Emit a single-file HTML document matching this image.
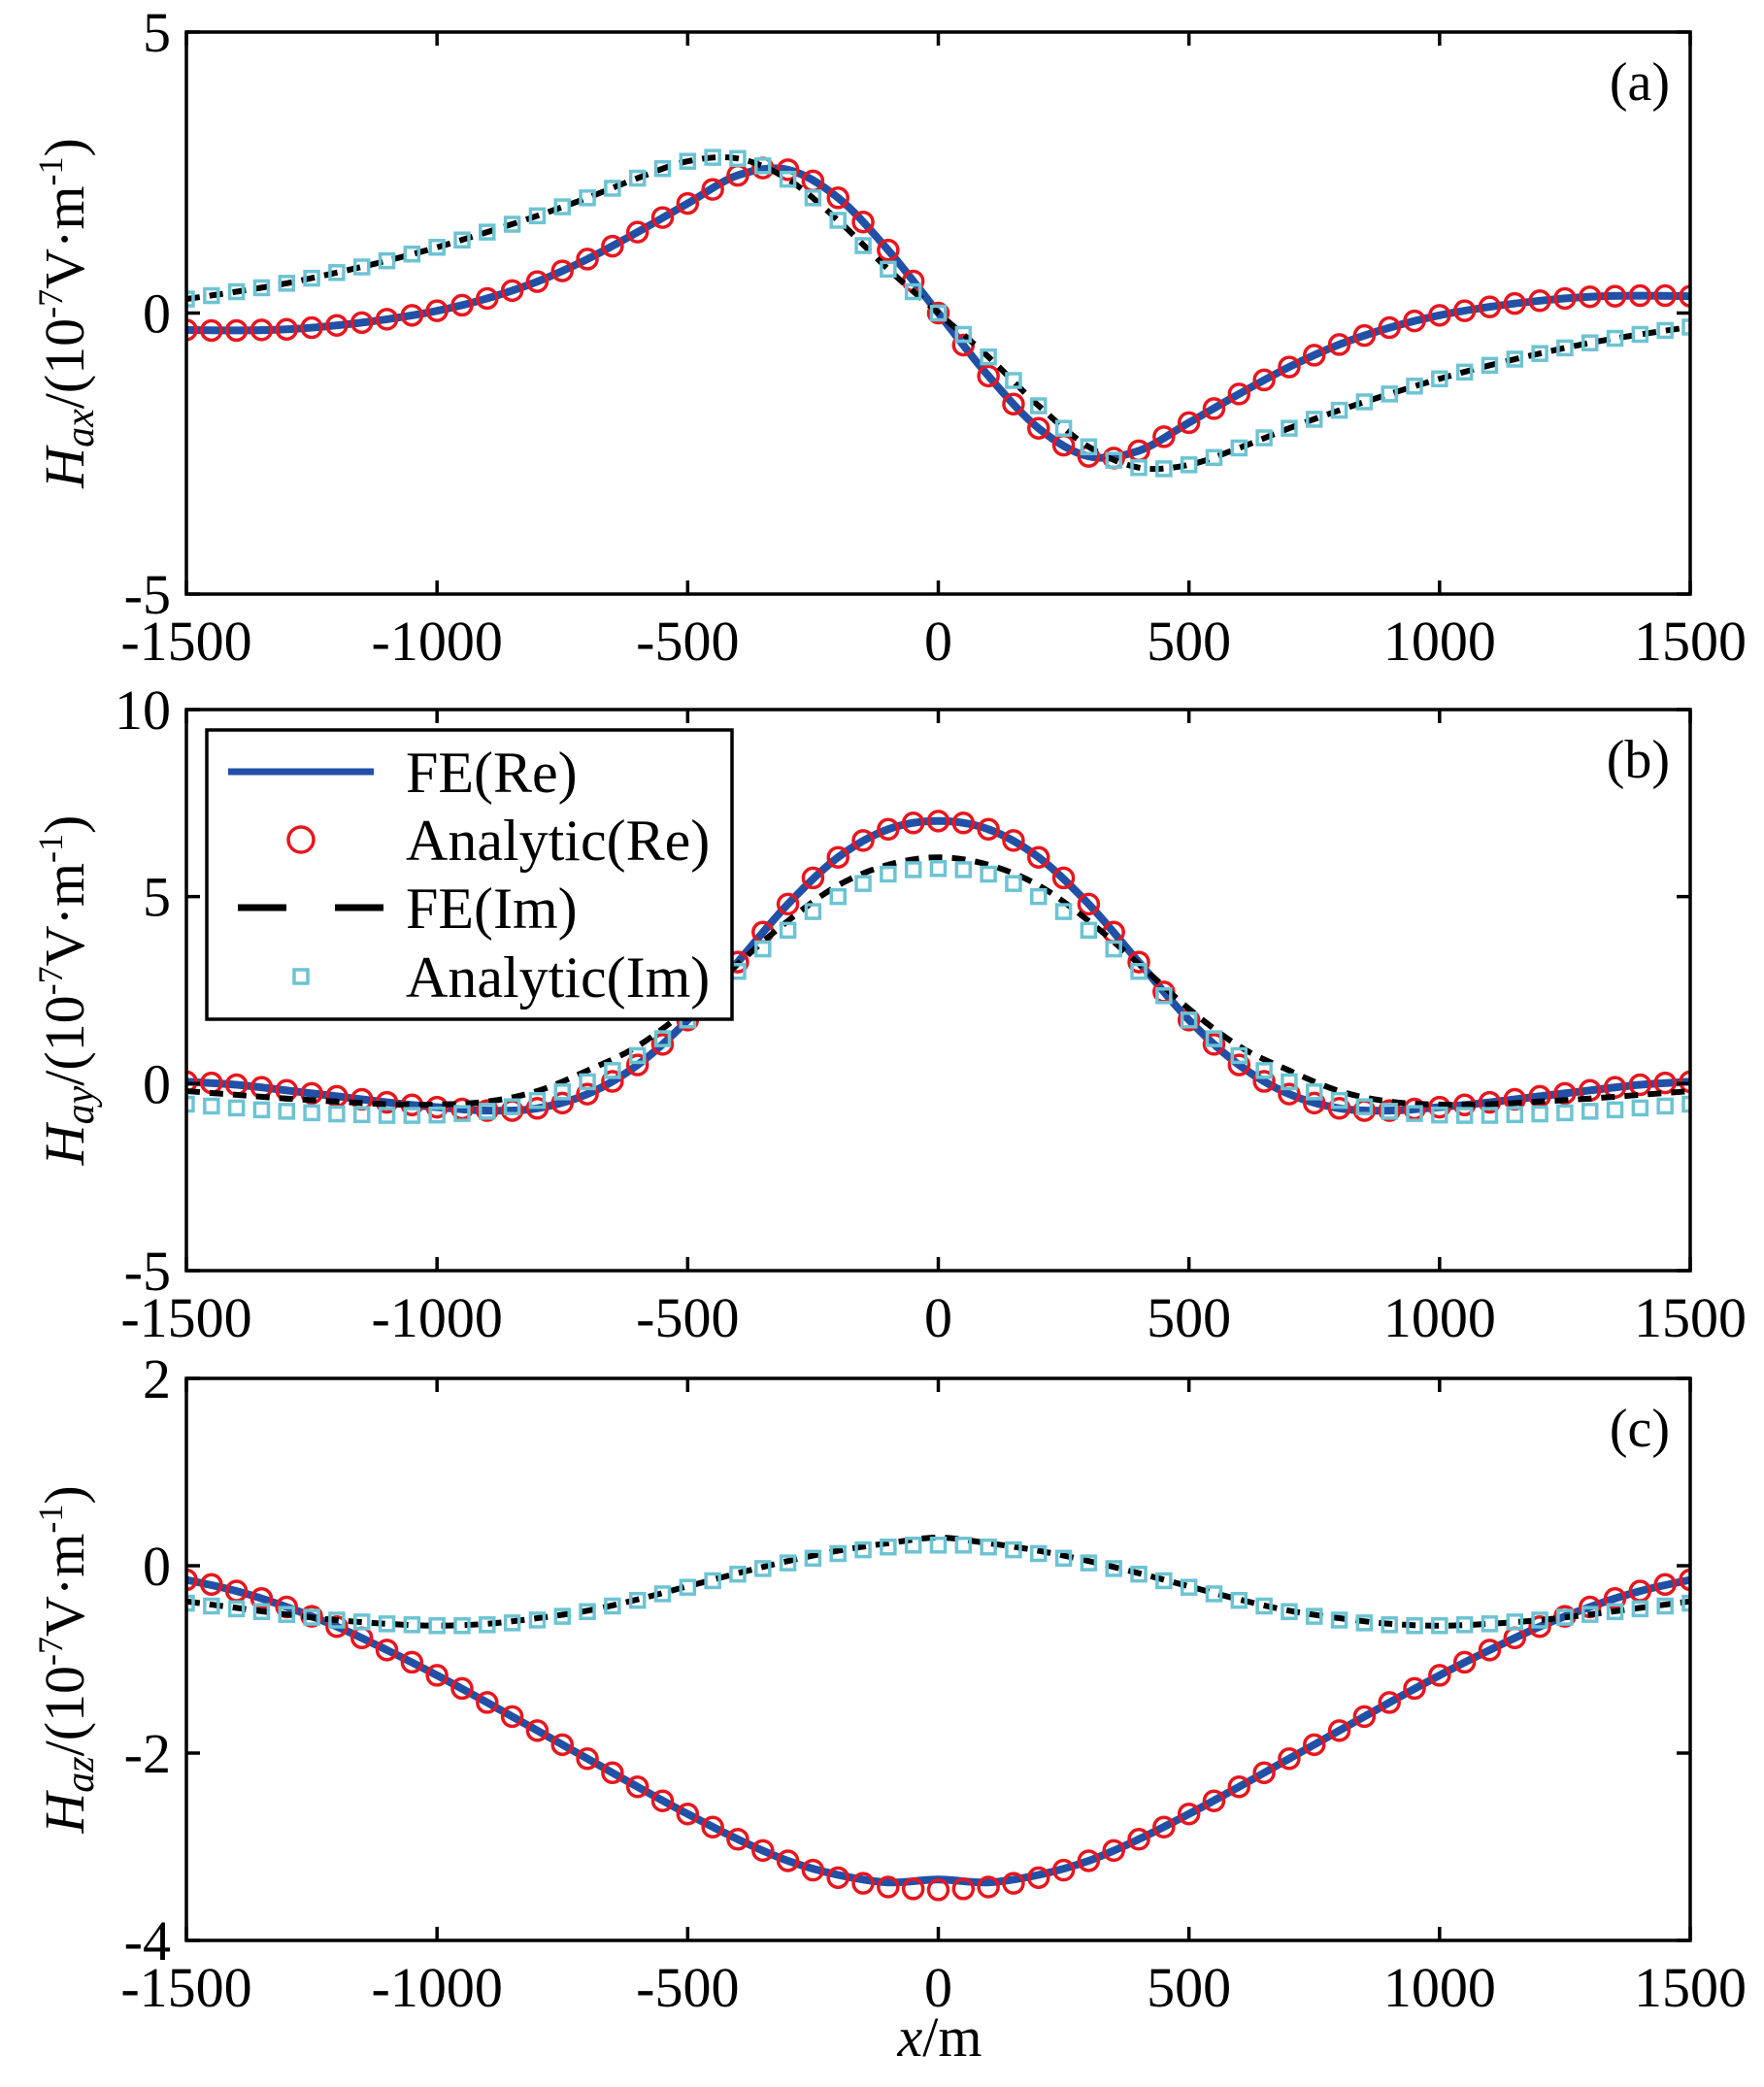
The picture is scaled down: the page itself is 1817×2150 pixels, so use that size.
<!DOCTYPE html>
<html><head><meta charset="utf-8">
<style>
html,body{margin:0;padding:0;background:#fff;}
svg{display:block;font-family:"Liberation Serif",serif;}
</style></head>
<body>
<svg id="chart" width="1817" height="2150" viewBox="0 0 1817 2150" xmlns="http://www.w3.org/2000/svg">
<rect x="0" y="0" width="1817" height="2150" fill="#fff"/>
</svg>
<script>
const xAnalytic = [];
for (let i = 0; i <= 60; i++) xAnalytic.push(-1500 + 50 * i);
const xFE = [];
for (let i = 0; i <= 30; i++) xFE.push(-1500 + 100 * i);

const xTicks = [-1500, -1000, -500, 0, 500, 1000, 1500];
const xTickLabels = ["-1500", "-1000", "-500", "0", "500", "1000", "1500"];

// Panel (a) Hax
const aAnRe = [-0.30,-0.31,-0.31,-0.30,-0.29,-0.26,-0.22,-0.17,-0.11,-0.04,0.04,0.14,0.26,0.40,0.56,0.75,0.96,1.19,1.44,1.70,1.95,2.20,2.45,2.58,2.55,2.35,2.05,1.62,1.12,0.57,0,-0.57,-1.12,-1.62,-2.05,-2.35,-2.55,-2.58,-2.45,-2.20,-1.95,-1.70,-1.44,-1.19,-0.96,-0.75,-0.56,-0.40,-0.26,-0.14,-0.04,0.04,0.11,0.17,0.22,0.26,0.29,0.30,0.31,0.31,0.30];
const aAnIm = [0.25,0.31,0.38,0.45,0.53,0.62,0.72,0.82,0.93,1.05,1.17,1.30,1.44,1.58,1.73,1.89,2.05,2.22,2.40,2.57,2.70,2.77,2.75,2.62,2.38,2.05,1.65,1.20,0.78,0.38,0,-0.38,-0.78,-1.20,-1.65,-2.05,-2.38,-2.62,-2.75,-2.77,-2.70,-2.57,-2.40,-2.22,-2.05,-1.89,-1.73,-1.58,-1.44,-1.30,-1.17,-1.05,-0.93,-0.82,-0.72,-0.62,-0.53,-0.45,-0.38,-0.31,-0.25];
const aFeRe = [-0.30,-0.31,-0.29,-0.22,-0.11,0.04,0.26,0.56,0.96,1.44,1.95,2.45,2.55,2.05,1.12,0,-1.12,-2.05,-2.55,-2.45,-1.95,-1.44,-0.96,-0.56,-0.26,-0.04,0.11,0.22,0.29,0.31,0.30];
const aFeIm = [0.25,0.38,0.53,0.72,0.93,1.17,1.44,1.73,2.05,2.40,2.70,2.75,2.38,1.65,0.78,0,-0.78,-1.65,-2.38,-2.75,-2.70,-2.40,-2.05,-1.73,-1.44,-1.17,-0.93,-0.72,-0.53,-0.38,-0.25];
const aYTicks = [-5, 0, 5];

// Panel (b) Hay
const bAnRe = [0.05,0.02,-0.03,-0.10,-0.18,-0.26,-0.34,-0.42,-0.50,-0.57,-0.63,-0.68,-0.72,-0.72,-0.66,-0.52,-0.28,0.06,0.50,1.05,1.70,2.45,3.25,4.05,4.80,5.50,6.05,6.50,6.80,6.97,7.02,6.97,6.80,6.50,6.05,5.50,4.80,4.05,3.25,2.45,1.70,1.05,0.50,0.06,-0.28,-0.52,-0.66,-0.72,-0.72,-0.68,-0.63,-0.57,-0.50,-0.42,-0.34,-0.26,-0.18,-0.10,-0.03,0.02,0.05];
const bAnIm = [-0.55,-0.60,-0.65,-0.70,-0.74,-0.78,-0.81,-0.83,-0.85,-0.85,-0.84,-0.80,-0.74,-0.62,-0.45,-0.22,0.05,0.35,0.75,1.20,1.70,2.35,3.00,3.60,4.10,4.60,5.00,5.35,5.60,5.72,5.75,5.72,5.60,5.35,5.00,4.60,4.10,3.60,3.00,2.35,1.70,1.20,0.75,0.35,0.05,-0.22,-0.45,-0.62,-0.74,-0.80,-0.84,-0.85,-0.85,-0.83,-0.81,-0.78,-0.74,-0.70,-0.65,-0.60,-0.55];
const bFeRe = [0.05,-0.03,-0.18,-0.34,-0.50,-0.63,-0.72,-0.66,-0.28,0.50,1.70,3.25,4.80,6.05,6.80,7.02,6.80,6.05,4.80,3.25,1.70,0.50,-0.28,-0.66,-0.72,-0.63,-0.50,-0.34,-0.18,-0.03,0.05];
const bFeIm = [-0.20,-0.30,-0.40,-0.48,-0.55,-0.56,-0.48,-0.20,0.35,1.00,2.00,3.20,4.35,5.30,5.85,6.05,5.85,5.30,4.35,3.20,2.00,1.00,0.35,-0.20,-0.48,-0.56,-0.55,-0.48,-0.40,-0.30,-0.20];
const bYTicks = [-5, 0, 5, 10];

// Panel (c) Haz
const cAnRe = [-0.15,-0.20,-0.27,-0.35,-0.44,-0.54,-0.65,-0.77,-0.90,-1.03,-1.17,-1.31,-1.46,-1.61,-1.76,-1.91,-2.06,-2.21,-2.36,-2.51,-2.65,-2.79,-2.92,-3.04,-3.15,-3.25,-3.33,-3.39,-3.43,-3.45,-3.46,-3.45,-3.43,-3.39,-3.33,-3.25,-3.15,-3.04,-2.92,-2.79,-2.65,-2.51,-2.36,-2.21,-2.06,-1.91,-1.76,-1.61,-1.46,-1.31,-1.17,-1.03,-0.90,-0.77,-0.65,-0.54,-0.44,-0.35,-0.27,-0.20,-0.15];
const cAnIm = [-0.40,-0.43,-0.46,-0.49,-0.52,-0.55,-0.58,-0.60,-0.62,-0.63,-0.64,-0.64,-0.63,-0.61,-0.58,-0.54,-0.49,-0.43,-0.37,-0.30,-0.23,-0.16,-0.09,-0.03,0.03,0.08,0.13,0.17,0.20,0.22,0.22,0.22,0.20,0.17,0.13,0.08,0.03,-0.03,-0.09,-0.16,-0.23,-0.30,-0.37,-0.43,-0.49,-0.54,-0.58,-0.61,-0.63,-0.64,-0.64,-0.63,-0.62,-0.60,-0.58,-0.55,-0.52,-0.49,-0.46,-0.43,-0.40];
const cFeRe = [-0.15,-0.27,-0.44,-0.65,-0.90,-1.17,-1.46,-1.76,-2.06,-2.36,-2.65,-2.92,-3.15,-3.30,-3.38,-3.35,-3.38,-3.30,-3.15,-2.92,-2.65,-2.36,-2.06,-1.76,-1.46,-1.17,-0.90,-0.65,-0.44,-0.27,-0.15];
const cFeIm = [-0.38,-0.45,-0.52,-0.58,-0.62,-0.64,-0.62,-0.56,-0.48,-0.36,-0.22,-0.08,0.05,0.16,0.24,0.30,0.24,0.16,0.05,-0.08,-0.22,-0.36,-0.48,-0.56,-0.62,-0.64,-0.62,-0.58,-0.52,-0.45,-0.38];
const cYTicks = [-4, -2, 0, 2];

const NS = "http://www.w3.org/2000/svg";
const svg = document.getElementById("chart");
const X0 = 192, X1 = 1741;
const COL_BLUE = "#2150a6", COL_RED = "#e8161e", COL_CYAN = "#6cc3d3";

function mk(tag, attrs, parent) {
  const e = document.createElementNS(NS, tag);
  for (const k in attrs) e.setAttribute(k, attrs[k]);
  (parent || svg).appendChild(e);
  return e;
}
function smoothPath(pts) {
  let d = "M" + pts[0][0].toFixed(1) + "," + pts[0][1].toFixed(1);
  for (let i = 0; i < pts.length - 1; i++) {
    const p0 = pts[Math.max(0, i - 1)], p1 = pts[i], p2 = pts[i + 1], p3 = pts[Math.min(pts.length - 1, i + 2)];
    const c1x = p1[0] + (p2[0] - p0[0]) / 6, c1y = p1[1] + (p2[1] - p0[1]) / 6;
    const c2x = p2[0] - (p3[0] - p1[0]) / 6, c2y = p2[1] - (p3[1] - p1[1]) / 6;
    d += " C" + c1x.toFixed(1) + "," + c1y.toFixed(1) + " " + c2x.toFixed(1) + "," + c2y.toFixed(1) + " " + p2[0].toFixed(1) + "," + p2[1].toFixed(1);
  }
  return d;
}

function panel(cfg) {
  const g = mk("g", {});
  
  
  const xs = v => X0 + (v + 1500) / 3000 * (X1 - X0);
  const ys = v => cfg.bot - (v - cfg.ymin) / (cfg.ymax - cfg.ymin) * (cfg.bot - cfg.top);
  const clip = "clip-" + cfg.name;
  const cp = mk("clipPath", { id: clip }, g);
  mk("rect", { x: X0, y: cfg.top, width: X1 - X0, height: cfg.bot - cfg.top }, cp);
  const plot = mk("g", { "clip-path": "url(#" + clip + ")" }, g);

  const feRePts = xFE.map((x, i) => [xs(x), ys(cfg.feRe[i])]);
  const l1 = mk("path", { d: smoothPath(feRePts), fill: "none", stroke: COL_BLUE, "stroke-width": 8 }, plot);
  
  

  xAnalytic.forEach((x, i) => {
    const c = mk("circle", { cx: xs(x), cy: ys(cfg.anRe[i]), r: 10, fill: "none", stroke: COL_RED, "stroke-width": 3.5 }, plot);
    
    
  });

  const feImPts = xFE.map((x, i) => [xs(x), ys(cfg.feIm[i])]);
  const l2 = mk("path", { d: smoothPath(feImPts), fill: "none", stroke: "#000", "stroke-width": 6, "stroke-dasharray": "14 10" }, plot);
  
  

  xAnalytic.forEach((x, i) => {
    const s = mk("rect", { x: xs(x) - 7, y: ys(cfg.anIm[i]) - 7, width: 14, height: 14, fill: "none", stroke: COL_CYAN, "stroke-width": 3.5 }, plot);
    
    
  });

  const frame = mk("rect", { x: X0, y: cfg.top, width: X1 - X0, height: cfg.bot - cfg.top, fill: "none", stroke: "#000", "stroke-width": 3.5 }, g);
  
  

  xTicks.forEach((t, i) => {
    const x = xs(t);
    mk("line", { x1: x, y1: cfg.bot, x2: x, y2: cfg.bot - 14, stroke: "#000", "stroke-width": 3.5 }, g);
    mk("line", { x1: x, y1: cfg.top, x2: x, y2: cfg.top + 14, stroke: "#000", "stroke-width": 3.5 }, g);
    const tx = mk("text", { x: x, y: cfg.bot + 68, "font-size": 58, "text-anchor": "middle" }, g);
    tx.textContent = xTickLabels[i];
    
    
  });
  cfg.yTicks.forEach(t => {
    const y = ys(t);
    mk("line", { x1: X0, y1: y, x2: X0 + 14, y2: y, stroke: "#000", "stroke-width": 3.5 }, g);
    mk("line", { x1: X1, y1: y, x2: X1 - 14, y2: y, stroke: "#000", "stroke-width": 3.5 }, g);
    const ty = mk("text", { x: 176, y: y + 20, "font-size": 58, "text-anchor": "end" }, g);
    ty.textContent = String(t);
    
    
  });

  const pl = mk("text", { x: 1720, y: cfg.top + 70, "font-size": 56, "text-anchor": "end" }, g);
  pl.textContent = cfg.label;
  
  

  const cy = (cfg.top + cfg.bot) / 2;
  const yl = mk("text", { x: 0, y: 0, "font-size": 58, "text-anchor": "middle", transform: "translate(86," + cy + ") rotate(-90)" }, g);
  
  
  yl.innerHTML = '<tspan font-style="italic">H</tspan><tspan font-style="italic" font-size="42" dy="10">' + cfg.sub + '</tspan><tspan dy="-10">/(10</tspan><tspan font-size="36" dy="-22">-7</tspan><tspan dy="22">V·m</tspan><tspan font-size="36" dy="-22">-1</tspan><tspan dy="22">)</tspan>';
}

panel({ name: "panel-a", label: "(a)", sub: "ax", top: 33, bot: 612, ymin: -5, ymax: 5, yTicks: aYTicks, anRe: aAnRe, anIm: aAnIm, feRe: aFeRe, feIm: aFeIm });
panel({ name: "panel-b", label: "(b)", sub: "ay", top: 731, bot: 1309, ymin: -5, ymax: 10, yTicks: bYTicks, anRe: bAnRe, anIm: bAnIm, feRe: bFeRe, feIm: bFeIm });
panel({ name: "panel-c", label: "(c)", sub: "az", top: 1420, bot: 1999, ymin: -4, ymax: 2, yTicks: cYTicks, anRe: cAnRe, anIm: cAnIm, feRe: cFeRe, feIm: cFeIm });

const xt = mk("text", { x: 968, y: 2118, "font-size": 58, "text-anchor": "middle" });


xt.innerHTML = '<tspan font-style="italic">x</tspan>/m';

const lg = mk("g", {});


mk("rect", { x: 213, y: 752, width: 541, height: 298, fill: "#fff", stroke: "#000", "stroke-width": 3.5 }, lg);
const legendLabels = ["FE(Re)", "Analytic(Re)", "FE(Im)", "Analytic(Im)"];
const legendY = [795, 865, 935, 1006];
mk("line", { x1: 235, y1: legendY[0], x2: 385, y2: legendY[0], stroke: COL_BLUE, "stroke-width": 7 }, lg);
mk("circle", { cx: 310, cy: legendY[1], r: 13, fill: "none", stroke: COL_RED, "stroke-width": 3.5 }, lg);
mk("line", { x1: 245, y1: legendY[2], x2: 395, y2: legendY[2], stroke: "#000", "stroke-width": 7, "stroke-dasharray": "50 50" }, lg);
mk("rect", { x: 303, y: legendY[3] - 7, width: 14, height: 14, fill: "none", stroke: COL_CYAN, "stroke-width": 3.5 }, lg);
legendLabels.forEach((t, i) => {
  const e = mk("text", { x: 418, y: legendY[i] + 21, "font-size": 60 }, lg);
  e.textContent = t;
  
  
});
</script>
</body></html>
